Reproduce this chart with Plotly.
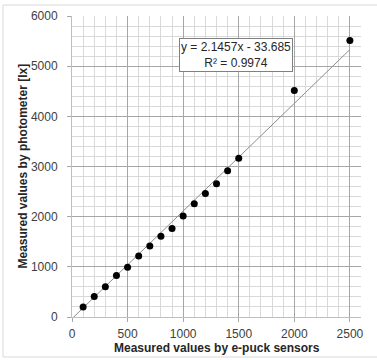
import plotly.graph_objects as go

# Data
epuck_values = [100, 200, 300, 400, 500, 600, 700, 800, 900, 1000, 1100, 1200, 1300, 1400, 1500, 2000, 2500]
photometer_values = [200, 410, 605, 825, 993, 1215, 1415, 1610, 1765, 2015, 2255, 2460, 2655, 2915, 3165, 4515, 5510]

trend_slope = 2.1457
trend_intercept = -33.685
trend_r2 = 0.9974
trend_x = [0, 2500]
trend_y = [trend_slope * v + trend_intercept for v in trend_x]

x_title = "Measured values by e-puck sensors"
y_title = "Measured values by photometer [lx]"

W, H = 377, 360
ML, MR, MT, MB = 72, 16, 16, 43
pw, ph = W - ML - MR, H - MT - MB

fig = go.Figure()
fig.add_trace(go.Scatter(x=trend_x, y=trend_y, mode="lines",
                         line=dict(color="#8c8c8c", width=1), hoverinfo="skip"))
fig.add_trace(go.Scatter(x=epuck_values, y=photometer_values, mode="markers",
                         marker=dict(color="black", size=7)))

FONT = "Liberation Sans, Arial, sans-serif"
tick_font = dict(family=FONT, size=12, color="#404040")
title_font = dict(family=FONT, size=12, color="#262626")

fig.update_xaxes(range=[0, 2600], dtick=500, tick0=0, showgrid=True, gridcolor="#a6a6a6", gridwidth=1,
                 minor=dict(dtick=100, showgrid=True, gridcolor="#d9d9d9", gridwidth=1),
                 showline=True, linecolor="#bfbfbf", linewidth=1, mirror=False,
                 ticks="outside", ticklen=4, tickcolor="#a6a6a6", ticklabelstandoff=2,
                 tickfont=tick_font, zeroline=False, automargin=False)
fig.update_yaxes(range=[0, 6000], dtick=1000, tick0=0, showgrid=True, gridcolor="#a6a6a6", gridwidth=1,
                 minor=dict(dtick=200, showgrid=True, gridcolor="#d9d9d9", gridwidth=1),
                 showline=True, linecolor="#bfbfbf", linewidth=1,
                 ticks="outside", ticklen=4, tickcolor="#a6a6a6", ticklabelstandoff=7,
                 tickfont=tick_font, zeroline=False, automargin=False)

# axis titles
fig.add_annotation(x=0.5, y=-(348 - (H - MB)) / ph, xref="paper", yref="paper",
                   xanchor="center", yanchor="middle", showarrow=False,
                   text="<b>" + x_title + "</b>", font=title_font)
fig.add_annotation(x=(22 - ML) / pw, y=0.5, xref="paper", yref="paper",
                   xanchor="center", yanchor="middle", showarrow=False, textangle=-90,
                   text="<b>" + y_title + "</b>", font=title_font)

fig.add_annotation(x=1477, y=5230, xref="x", yref="y", showarrow=False,
                   text="y = %.4fx - %.3f<br>R² = %.4f" % (trend_slope, -trend_intercept, trend_r2),
                   font=dict(family=FONT, size=12, color="#262626"),
                   bgcolor="white", bordercolor="#808080", borderwidth=1, borderpad=1, align="center")

# outer chart border
fig.add_shape(type="rect", xref="paper", yref="paper",
              x0=(3 - ML) / pw, x1=(W + 5 - ML) / pw,
              y0=-(357 - (H - MB)) / ph,
              y1=1 + (MT - 5) / ph,
              line=dict(color="#d9d9d9", width=1), fillcolor="rgba(0,0,0,0)", layer="below")

fig.update_layout(width=W, height=H, margin=dict(l=ML, r=MR, t=MT, b=MB),
                  paper_bgcolor="white", plot_bgcolor="white", showlegend=False)

fig.write_html("out.html", config={"displayModeBar": False},
               post_script="document.body.style.margin='0';document.body.style.overflow='hidden';")
